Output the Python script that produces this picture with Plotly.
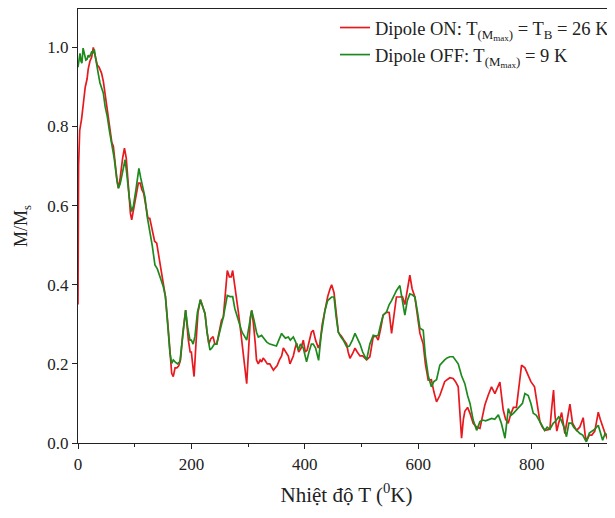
import plotly.graph_objects as go

# Dipole ON (red): temperature (K) and M/Ms
t_on = [0, 1, 3, 6.4, 9.6, 12.8, 16, 18, 21, 24, 27, 30.8, 34, 37.2, 41.5, 44.7, 47.9, 50.5, 53.2, 56.4, 59.6,
        62.3, 65.9, 69.1, 71.3, 74.4, 78.7, 81.9, 85.1, 89.3, 92.5, 94.7, 97.8, 102.1, 106.4, 109.5, 112.7, 115.9,
        120.2, 123.4, 126.6, 130.8, 135.1, 138.8, 142.5, 145.7, 150.5, 154.2, 158.5, 162.2, 165.2, 168, 171.2,
        174.4, 177.6, 180.8, 185, 189.8, 192.5, 194.6, 197.8, 199.9, 202.1, 204.7, 208.4, 211.6, 215.9, 219.1,
        224, 227.6, 230.8, 234, 238.2, 241.4, 244.6, 248.9, 253.1, 256.3, 260.6, 263.3, 266.9, 270.1, 272.8, 276.5,
        279.7, 282.9, 287.1, 291.4, 294.6, 297.5, 301, 304.2, 306.3, 309.5, 312.7, 314.8, 318, 321.2, 323.8, 326.5,
        329.7, 333.9, 338.2, 341.4, 344.6, 347.8, 351, 355.2, 359.1, 362.1, 365.8, 370.9, 373.8, 376.5, 379.7,
        382.9, 385.6, 389.2, 393.5, 397.3, 400.9, 404.1, 408.4, 411.6, 414.8, 419, 423.8, 426.5, 430.7, 435.5,
        440.3, 444.5, 447.3, 451.5, 455.2, 459.1, 461.6, 464.7, 469, 473.8, 476.4, 479.6, 483.9, 488.5, 492.4,
        497.3, 502, 509, 514.7, 520.6, 525.4, 529.4, 533.9, 538.1, 544.1, 548.8, 553, 557.3, 561.5, 567.6, 572.2,
        576.4, 580.7, 585.2, 589.2, 594.1, 598.8, 603, 608.8, 612.6, 617.6, 623.2, 627.5, 632.3, 638.1, 642.4,
        646.6, 650.9, 655.8, 661.5, 665.8, 670.5, 673.2, 676.4, 679.6, 682.2, 687, 691.3, 696.9, 703, 708.8, 712.5,
        717.5, 723.2, 729.2, 735.2, 739.1, 744, 749.8, 754, 758.7, 762.5, 767.8, 773.2, 777.4, 782.2, 788.1, 793.4,
        798.7, 805.1, 810.4, 814.6, 818.9, 823.1, 827.4, 832.2, 834.8, 838.6, 841.2, 844.4, 847.6, 852.9, 858.6,
        862.5, 867.5, 872.1, 879.2, 884.8, 890.9, 894.4, 896.5, 901.8, 906.1, 911.4, 917.5, 921, 925.2, 929.5,
        934.8, 939.1, 944, 947.6]
m_on = [0.35, 0.70, 0.79, 0.82, 0.86, 0.90, 0.92, 0.945, 0.965, 0.975, 1.0, 0.97, 0.955, 0.95, 0.935, 0.914, 0.88,
        0.85, 0.82, 0.784, 0.76, 0.75, 0.70, 0.66, 0.644, 0.67, 0.72, 0.745, 0.72, 0.63, 0.58, 0.564, 0.59, 0.627,
        0.657, 0.657, 0.64, 0.631, 0.60, 0.568, 0.568, 0.54, 0.51, 0.505, 0.47, 0.44, 0.395, 0.37, 0.30, 0.227,
        0.176, 0.168, 0.19, 0.19, 0.195, 0.21, 0.28, 0.336, 0.29, 0.26, 0.23, 0.23, 0.20, 0.168, 0.26, 0.33, 0.362,
        0.35, 0.327, 0.28, 0.25, 0.263, 0.269, 0.25, 0.25, 0.28, 0.31, 0.318, 0.39, 0.436, 0.42, 0.42, 0.436, 0.40,
        0.36, 0.33, 0.28, 0.22, 0.18, 0.15, 0.24, 0.32, 0.335, 0.30, 0.25, 0.21, 0.20, 0.21, 0.205, 0.215, 0.209,
        0.20, 0.20, 0.19, 0.184, 0.19, 0.195, 0.21, 0.22, 0.24, 0.23, 0.22, 0.20, 0.21, 0.22, 0.24, 0.252, 0.23,
        0.24, 0.26, 0.23, 0.235, 0.26, 0.28, 0.285, 0.26, 0.24, 0.25, 0.30, 0.335, 0.37, 0.39, 0.40, 0.38, 0.33,
        0.28, 0.275, 0.27, 0.26, 0.25, 0.23, 0.214, 0.225, 0.24, 0.23, 0.22, 0.22, 0.21, 0.218, 0.268, 0.27, 0.26,
        0.29, 0.323, 0.331, 0.33, 0.277, 0.33, 0.369, 0.369, 0.37, 0.35, 0.39, 0.424, 0.39, 0.369, 0.32, 0.277,
        0.25, 0.20, 0.159, 0.16, 0.13, 0.104, 0.12, 0.14, 0.155, 0.16, 0.165, 0.163, 0.155, 0.142, 0.08, 0.012,
        0.06, 0.08, 0.09, 0.075, 0.05, 0.04, 0.037, 0.06, 0.096, 0.12, 0.142, 0.125, 0.14, 0.154, 0.084, 0.06,
        0.05, 0.07, 0.09, 0.09, 0.14, 0.197, 0.19, 0.17, 0.155, 0.142, 0.09, 0.054, 0.04, 0.032, 0.033, 0.035,
        0.08, 0.134, 0.07, 0.03, 0.05, 0.077, 0.024, 0.06, 0.098, 0.05, 0.032, 0.04, 0.064, 0.02, 0.005, 0.02,
        0.02, 0.03, 0.078, 0.06, 0.04, 0.024, 0.007, 0.01, 0.03, 0.02]

# Dipole OFF (green): temperature (K) and M/Ms
t_off = [0, 1.6, 3.5, 5.3, 6.9, 9, 11.7, 13.8, 16, 18, 20.2, 22.3, 24.5, 26.6, 28.7, 30.8, 33, 36.2, 38.8, 41.5,
         44.7, 47.9, 51.7, 55.3, 59.6, 63.8, 68.1, 71.3, 74.4, 78.7, 83, 86.1, 90.4, 94.7, 97.8, 102.1, 104.8,
         107.4, 110.6, 113.8, 118, 122.3, 126.6, 130.8, 135.7, 139.9, 144.6, 150.5, 154.2, 158.5, 162.2, 165.2,
         168, 171.2, 175.5, 179.7, 185, 189.8, 193.6, 197.5, 199.9, 203.1, 206.3, 210.6, 215.9, 219.1, 224, 227.6,
         232.7, 236.1, 240.4, 244.6, 248.9, 253.1, 256.3, 260.6, 263.3, 268, 272.8, 276.5, 282.9, 289.3, 293.5,
         297.5, 301, 306.3, 310.5, 314.8, 318, 323.8, 327.6, 332.9, 338.2, 344.6, 349.9, 354.1, 359.1, 362.7,
         365.8, 370.9, 374.4, 379.7, 383.9, 388.5, 392.4, 397.3, 399.9, 403.1, 407.3, 411.6, 414.8, 419, 424.3,
         428.6, 435.5, 440.3, 447.3, 451.5, 455.2, 459.1, 463.7, 467.9, 473.8, 478.6, 483.9, 488.5, 492.4, 497.3,
         502, 509, 514.7, 520.6, 525.4, 529.4, 533.9, 538.1, 544.1, 548.8, 553, 557.3, 561.5, 567.6, 572.2, 576.4,
         580.7, 585.2, 589.2, 594.1, 598.8, 603, 608.8, 612.6, 617.6, 623.2, 627.5, 632.3, 638.1, 642.4, 646.6,
         650.9, 655.8, 661.5, 665.8, 670.5, 676.4, 682.2, 687, 691.3, 696.9, 703, 708.8, 713.6, 718.9, 724.2,
         729.6, 734.9, 741.3, 746.6, 753, 758.8, 763.6, 767.8, 773.5, 778.5, 783.8, 788.1, 794, 798.7, 802.9,
         808.3, 814.6, 817.5, 823.1, 827.4, 832.2, 838, 842.3, 847.6, 851.9, 857.2, 861.4, 865.7, 870.4, 874.2,
         879.2, 885.1, 890.1, 896.5, 901.8, 906.1, 911.4, 917.5, 921, 925.2, 929.5, 933.8, 938, 943.3, 947.6]
m_off = [0.95, 0.975, 0.985, 0.965, 0.96, 0.998, 0.975, 0.968, 0.97, 0.98, 0.975, 0.985, 0.99, 0.985, 0.995, 0.975,
         0.96, 0.93, 0.91, 0.895, 0.884, 0.85, 0.825, 0.79, 0.758, 0.72, 0.67, 0.644, 0.655, 0.69, 0.716, 0.68, 0.62,
         0.585, 0.60, 0.64, 0.67, 0.694, 0.67, 0.645, 0.622, 0.57, 0.539, 0.50, 0.45, 0.44, 0.42, 0.395, 0.37, 0.30,
         0.227, 0.201, 0.21, 0.205, 0.20, 0.206, 0.28, 0.336, 0.29, 0.26, 0.26, 0.25, 0.27, 0.33, 0.362, 0.35,
         0.327, 0.28, 0.235, 0.24, 0.25, 0.25, 0.28, 0.30, 0.318, 0.35, 0.373, 0.37, 0.37, 0.34, 0.31, 0.28, 0.27,
         0.26, 0.29, 0.335, 0.31, 0.28, 0.268, 0.272, 0.265, 0.255, 0.25, 0.247, 0.245, 0.26, 0.277, 0.27, 0.265,
         0.268, 0.26, 0.268, 0.255, 0.235, 0.25, 0.24, 0.22, 0.205, 0.23, 0.25, 0.25, 0.24, 0.209, 0.27, 0.335,
         0.36, 0.369, 0.369, 0.32, 0.28, 0.268, 0.26, 0.243, 0.245, 0.26, 0.277, 0.265, 0.25, 0.23, 0.21, 0.25,
         0.272, 0.27, 0.272, 0.30, 0.323, 0.331, 0.35, 0.36, 0.375, 0.385, 0.398, 0.36, 0.323, 0.36, 0.377, 0.375,
         0.369, 0.33, 0.29, 0.285, 0.22, 0.17, 0.142, 0.155, 0.16, 0.197, 0.205, 0.21, 0.215, 0.218, 0.218, 0.21,
         0.20, 0.17, 0.15, 0.12, 0.10, 0.058, 0.032, 0.054, 0.058, 0.056, 0.06, 0.062, 0.06, 0.071, 0.05, 0.012,
         0.087, 0.07, 0.075, 0.084, 0.09, 0.10, 0.125, 0.12, 0.10, 0.075, 0.07, 0.054, 0.045, 0.032, 0.04, 0.035,
         0.05, 0.055, 0.066, 0.058, 0.04, 0.016, 0.05, 0.05, 0.04, 0.032, 0.024, 0.02, 0.003, 0.025, 0.03, 0.035,
         0.045, 0.03, 0.007, 0.024, 0.02, 0.016, 0.03, 0.04]

x_ticks = [0, 200, 400, 600, 800]
y_ticks = [0.0, 0.2, 0.4, 0.6, 0.8, 1.0]

name_on = "Dipole ON: T<sub>(M<sub>max</sub>)</sub> = T<sub>B</sub> = 26 K"
name_off = "Dipole OFF: T<sub>(M<sub>max</sub>)</sub> = 9 K"

FONT = "Liberation Serif"
INK = "#222222"

fig = go.Figure()
fig.add_trace(go.Scatter(x=t_on, y=m_on, mode="lines", name=name_on,
                         line=dict(color="#e8191e", width=1.7)))
fig.add_trace(go.Scatter(x=t_off, y=m_off, mode="lines", name=name_off,
                         line=dict(color="#1e8a1e", width=1.7)))

# page body has an 8px margin, so the figure is sized 8px smaller than the window
fig.update_layout(
    width=607, height=510,
    margin=dict(l=70, r=0, t=1, b=75),
    paper_bgcolor="white", plot_bgcolor="white",
    font=dict(family=FONT, size=17, color=INK),
    showlegend=True,
    legend=dict(x=1.0, y=1.0, xanchor="right", yanchor="top",
                bgcolor="rgba(0,0,0,0)", font=dict(family=FONT, size=18.5, color=INK),
                tracegroupgap=0, itemwidth=30),
)
fig.update_xaxes(
    range=[0, 947], tickvals=x_ticks, ticks="outside", ticklen=5, tickwidth=1.2,
    tickcolor=INK, showline=True, linecolor=INK, linewidth=1.3, mirror=True,
    showgrid=False, zeroline=False,
    minor=dict(dtick=100, tick0=0, ticks="outside", ticklen=3, tickcolor=INK, showgrid=False),
    title=dict(text="Nhiệt độ T (<sup>0</sup>K)", font=dict(family=FONT, size=21, color=INK), standoff=14),
    tickfont=dict(family=FONT, size=17, color=INK),
)
fig.update_yaxes(
    range=[0, 1.097], tickvals=y_ticks, tickformat=".1f", ticks="outside", ticklen=5, tickwidth=1.2,
    tickcolor=INK, showline=True, linecolor=INK, linewidth=1.3, mirror=False,
    showgrid=False, zeroline=False,
    title=dict(text="M/M<sub>s</sub>", font=dict(family=FONT, size=18, color=INK), standoff=14),
    tickfont=dict(family=FONT, size=17, color=INK),
)

fig.write_html("out.html")
